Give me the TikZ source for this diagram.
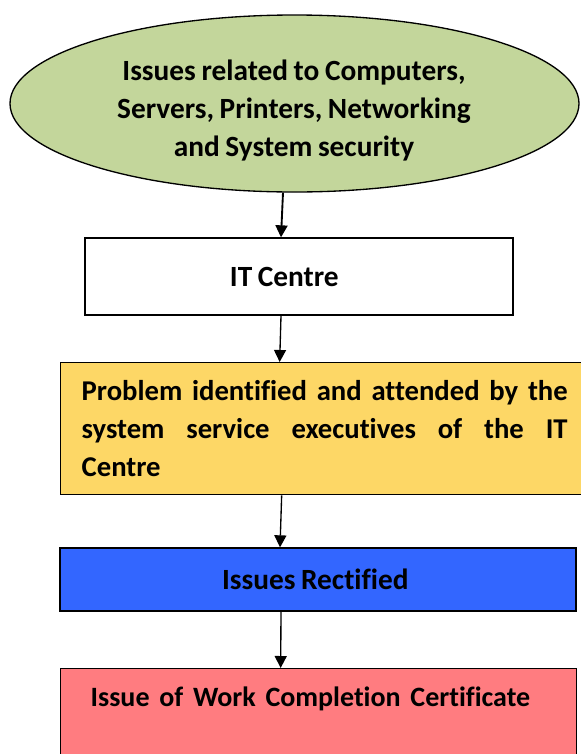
\documentclass[tikz,border=0pt]{standalone}
\usepackage{fontspec}
\setmainfont[Ligatures=NoCommon, WordSpace=0.85]{Carlito}
\usetikzlibrary{shapes.geometric,arrows.meta}
\hyphenpenalty=10000
\exhyphenpenalty=10000
\tolerance=10000
\definecolor{egreen}{HTML}{C3D69B}
\definecolor{byellow}{HTML}{FDD766}
\definecolor{bblue}{HTML}{3366FF}
\definecolor{bred}{HTML}{FF7C80}
\tikzset{
  every node/.style={font=\bfseries\fontsize{22}{28.5}\selectfont, text=black},
  box/.style={draw=black, line width=1pt, rectangle, inner sep=0pt},
  arr/.style={draw=black, line width=1pt, -{Triangle[length=9pt,width=9pt]}},
}
\begin{document}
\begin{tikzpicture}[x=0.75pt,y=-0.75pt]
\useasboundingbox (0,0) rectangle (581,754);
\node[ellipse, draw=black, line width=1pt, fill=egreen, minimum width=569*0.75pt, minimum height=177*0.75pt, inner sep=0pt] (issues) at (294.5,103.5) {};
\node[align=center] (issuestxt) at (294,111) {Issues related to Computers,\\Servers, Printers, Networking\\and System security};
\node[box, fill=white, minimum width=428*0.75pt, minimum height=77*0.75pt] (it) at (299,276.5) {\hspace*{-22pt}IT Centre};
\node[box, fill=byellow, anchor=north west, text width=486*0.75pt, inner xsep=21*0.75pt, minimum height=132*0.75pt, align=justify, font=\bfseries\fontsize{21.5}{28.5}\selectfont] (prob) at (60,362) {Problem identified and attended by the\linebreak system service executives of the IT\linebreak Centre};
\node[box, fill=bblue, minimum width=516*0.75pt, minimum height=63*0.75pt] (rect) at (318,579.5) {\hspace*{-4pt}Issues Rectified};
\node[box, fill=bred, anchor=north west, text width=456*0.75pt, inner xsep=30*0.75pt, inner ysep=0pt, text height=38*0.75pt, text depth=110*0.75pt, align=left] (cert) at (60,668) {\fontsize{21}{28.5}\selectfont\mbox{Issue of Work Completion Certificate}};
\draw[arr, line width=1.4pt] ([xshift=-11.5*0.75pt]issues.south) -- ([xshift=-18*0.75pt]it.north);
\draw[arr] ([xshift=-18*0.75pt]it.south) -- ([xshift=-45*0.75pt]prob.north);
\draw[arr] ([xshift=-43*0.75pt]prob.south) -- ([xshift=-38*0.75pt]rect.north);
\draw[arr] ([xshift=-37*0.75pt]rect.south) -- ([xshift=-38*0.75pt]cert.north);
\end{tikzpicture}
\end{document}
